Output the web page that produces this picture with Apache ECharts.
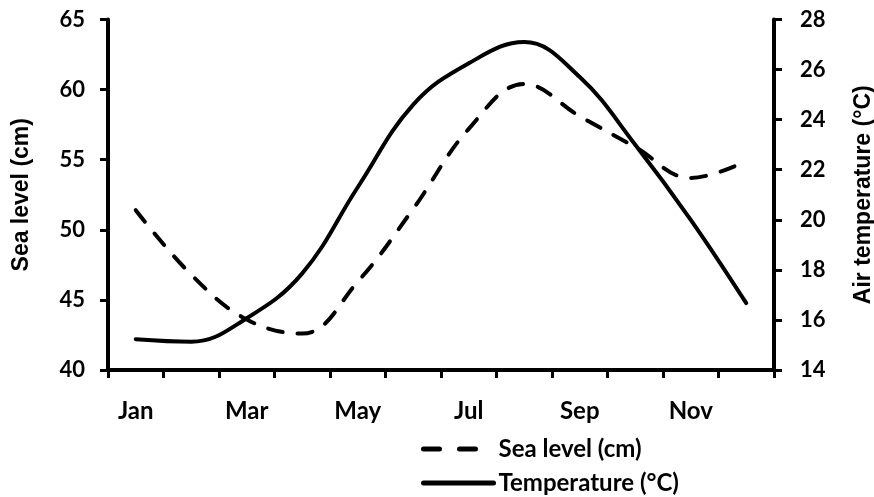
<!DOCTYPE html>
<html>
<head>
<meta charset="utf-8">
<script src="https://cdn.jsdelivr.net/npm/echarts@6/dist/echarts.min.js"></script>
<style>
  html, body { margin: 0; padding: 0; background: #fff; }
  #chart { width: 874px; height: 497px; }
</style>
</head>
<body>
<div id="chart"></div>
<script>
// 月份
const months = ['Jan', 'Feb', 'Mar', 'Apr', 'May', 'Jun', 'Jul', 'Aug', 'Sep', 'Oct', 'Nov', 'Dec']
// 海平面 (cm)
const seaLevel = [51.4, 46.8, 43.6, 42.6, 46.3, 51.5, 57.2, 60.4, 58.1, 55.9, 53.7, 54.9]
// 气温 (°C)
const temperature = [15.23, 15.13, 16.07, 17.86, 21.3, 24.6, 26.25, 27.1, 25.7, 23.0, 20.0, 16.67]

const labelFont = 'Lato'
const titleFont = 'Liberation Sans'
const black = '#000'

// 坐标轴公共样式
let axisLine = { show: true, lineStyle: { color: black, width: 4 } }
let axisTick = { show: true, inside: false, length: 8, lineStyle: { color: black, width: 3 } }
let titleStyle = { color: black, fontFamily: titleFont, fontWeight: 'bold', fontSize: 23 }

let chart = echarts.init(document.getElementById('chart'))
chart.setOption({
  animation: false,
  backgroundColor: '#fff',
  grid: { left: 108, right: 100, top: 19.5, bottom: 127, containLabel: false, outerBoundsMode: 'none' },
  legend: {
    orient: 'vertical',
    left: 421,
    top: 437,
    padding: 0,
    itemWidth: 70,
    itemHeight: 10,
    itemGap: 10,
    itemStyle: { opacity: 0 },
    lineStyle: { width: 5, cap: 'round' },
    textStyle: { color: black, fontFamily: labelFont, fontWeight: 'bold', fontSize: 24, lineHeight: 24 },
    data: [
      { name: 'Sea level (cm)', lineStyle: { width: 5, cap: 'round', type: [16, 20] } },
      { name: 'Temperature (°C)', lineStyle: { width: 5, cap: 'round' } }
    ]
  },
  xAxis: {
    type: 'category',
    data: months,
    boundaryGap: true,
    axisLine: axisLine,
    axisTick: { ...axisTick, interval: 0 },
    splitLine: { show: false },
    axisLabel: { color: black, fontFamily: labelFont, fontWeight: 'bold', fontSize: 24, interval: 1, margin: 29 }
  },
  yAxis: [
    {
      type: 'value', min: 40, max: 65, interval: 5,
      name: 'Sea level (cm)', nameLocation: 'middle', nameRotate: 90, nameGap: 75,
      nameTextStyle: titleStyle,
      axisLine: axisLine,
      axisTick: axisTick,
      splitLine: { show: false },
      axisLabel: { color: black, fontFamily: labelFont, fontWeight: 'bold', fontSize: 22, margin: 23 }
    },
    {
      type: 'value', min: 14, max: 28, interval: 2, position: 'right',
      name: 'Air temperature (°C)', nameLocation: 'middle', nameRotate: 90, nameGap: 78,
      nameTextStyle: titleStyle,
      axisLine: axisLine,
      axisTick: axisTick,
      splitLine: { show: false },
      axisLabel: { color: black, fontFamily: labelFont, fontWeight: 'bold', fontSize: 22, margin: 26 }
    }
  ],
  series: [
    {
      name: 'Sea level (cm)',
      type: 'line',
      yAxisIndex: 0,
      data: seaLevel,
      smooth: 0.4,
      symbol: 'none',
      itemStyle: { color: black },
      lineStyle: { color: black, width: 4, type: [15, 15], cap: 'round' }
    },
    {
      name: 'Temperature (°C)',
      type: 'line',
      yAxisIndex: 1,
      data: temperature,
      smooth: 0.4,
      symbol: 'none',
      itemStyle: { color: black },
      lineStyle: { color: black, width: 4, cap: 'round' }
    }
  ]
})
</script>
</body>
</html>
